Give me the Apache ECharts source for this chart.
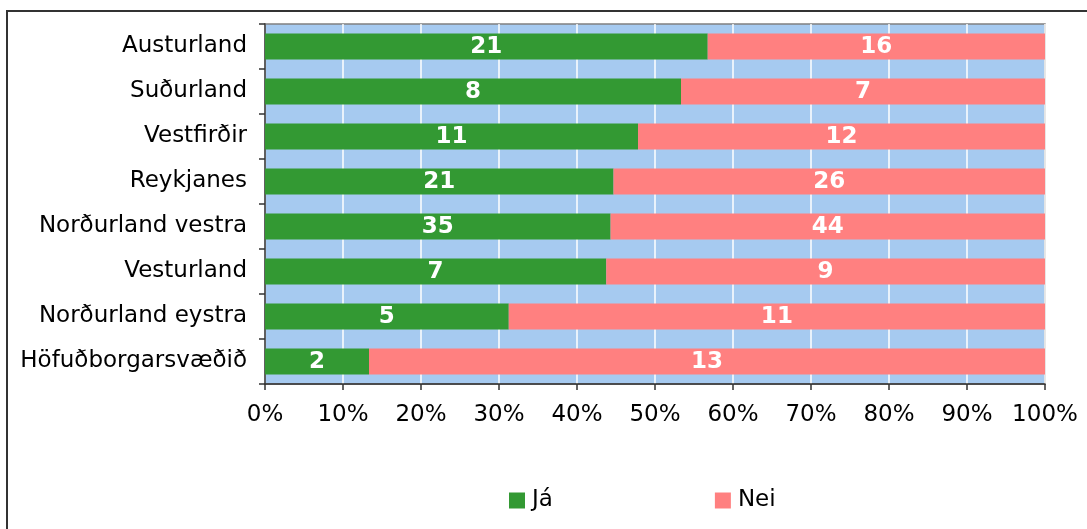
<!DOCTYPE html>
<html>
<head>
<meta charset="utf-8">
<script src="https://cdn.jsdelivr.net/npm/echarts@6/dist/echarts.min.js"></script>
<style>
html, body { margin: 0; padding: 0; background: #fff; }
#chartmain { width: 1087px; height: 529px; }
</style>
</head>
<body>
<div id="chartmain"></div>
<script>
var regions = ['Austurland', 'Suðurland', 'Vestfirðir', 'Reykjanes', 'Norðurland vestra', 'Vesturland', 'Norðurland eystra', 'Höfuðborgarsvæðið'];
var ja = [21, 8, 11, 21, 35, 7, 5, 2];
var nei = [16, 7, 12, 26, 44, 9, 11, 13];
var seriesNames = ['Já', 'Nei'];
var colors = ['#339933', '#FF8080'];

var font = 'DejaVu Sans, Verdana, sans-serif';

// hlutfall af heild fyrir hvern landshluta
function pct(arr, i) {
	return arr[i] / (ja[i] + nei[i]) * 100;
}

function buildSeries(name, raw, color) {
	var data = [];
	for (var i = 0; i < regions.length; i++) {
		data.push({ value: pct(raw, i), raw: raw[i] });
	}
	return {
		name: name,
		type: 'bar',
		stack: 'total',
		barWidth: '58%',
		itemStyle: { color: color },
		label: {
			show: true,
			position: 'inside',
			offset: [0, 1],
			color: '#fff',
			fontFamily: font,
			fontWeight: 'bold',
			fontSize: 23,
			formatter: function (p) { return p.data.raw; }
		},
		data: data
	};
}

var option = {
	animation: false,
	textStyle: { fontFamily: font },
	graphic: [{
		type: 'rect',
		shape: { x: 7, y: 11, width: 1200, height: 600 },
		style: { fill: 'none', stroke: '#333', lineWidth: 2 },
		silent: true
	}],
	grid: {
		left: 265,
		top: 24,
		width: 780,
		height: 360,
		show: true,
		backgroundColor: '#A6CAF0',
		borderColor: '#808080',
		borderWidth: 1.5
	},
	legend: {
		left: 509,
		top: 489,
		padding: 0,
		itemWidth: 16,
		itemHeight: 16,
		itemGap: 162,
		icon: 'rect',
		textStyle: { fontFamily: font, fontSize: 23, color: '#000', padding: [0, 0, 0, 2] },
		data: seriesNames
	},
	xAxis: {
		type: 'value',
		min: 0,
		max: 100,
		interval: 10,
		axisLine: { show: true, lineStyle: { color: '#333', width: 1.5 } },
		axisTick: { show: true, length: 6, lineStyle: { color: '#333', width: 1.5 } },
		axisLabel: { formatter: '{value}%', color: '#000', fontSize: 23, margin: 20, fontFamily: font },
		splitLine: { show: true, lineStyle: { color: '#fff', width: 1.5 } }
	},
	yAxis: {
		type: 'category',
		inverse: true,
		data: regions,
		axisLine: { show: true, lineStyle: { color: '#333', width: 1.5 } },
		axisTick: { show: true, length: 6, lineStyle: { color: '#333', width: 1.5 } },
		axisLabel: { color: '#000', fontSize: 23, margin: 18, fontFamily: font },
		splitLine: { show: false }
	},
	series: [
		buildSeries(seriesNames[0], ja, colors[0]),
		buildSeries(seriesNames[1], nei, colors[1])
	]
};

var myChart = echarts.init(document.getElementById('chartmain'));
myChart.setOption(option);
</script>
</body>
</html>
